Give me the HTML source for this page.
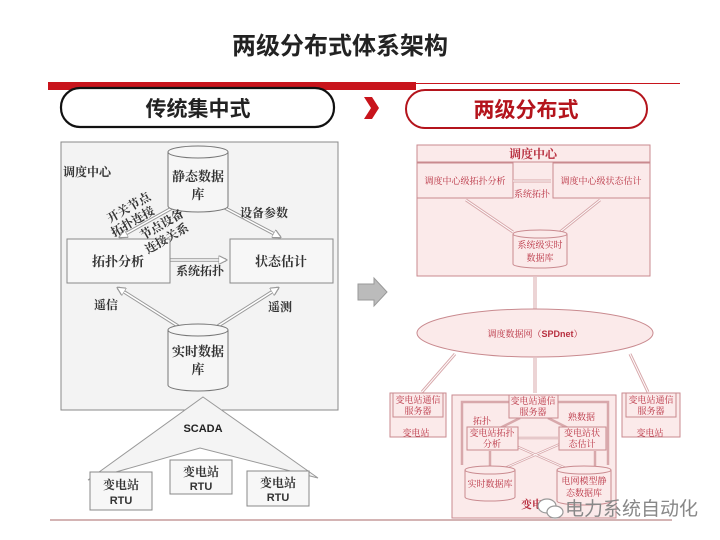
<!DOCTYPE html>
<html><head><meta charset="utf-8"><style>
html,body{margin:0;padding:0;background:#fff;}
svg{display:block;}
text{font-family:"Liberation Serif","Noto Serif CJK SC","Noto Sans CJK SC",serif;}
.s{font-family:"Liberation Sans","Noto Sans CJK SC",sans-serif;}
</style></head><body>
<svg width="720" height="540" viewBox="0 0 720 540" xmlns="http://www.w3.org/2000/svg">
<defs>
<marker id="ag" markerWidth="6" markerHeight="6" refX="5" refY="3" orient="auto"><path d="M0,0 L6,3 L0,6 Z" fill="#fff" stroke="#999" stroke-width="0.8"/></marker>
<marker id="ar" markerWidth="6" markerHeight="6" refX="5" refY="3" orient="auto"><path d="M0,0 L6,3 L0,6 Z" fill="#fff" stroke="#c98a8f" stroke-width="0.8"/></marker>
</defs>
<!-- title -->
<text x="340" y="54" text-anchor="middle" class="s" font-size="24" font-weight="bold" fill="#222">两级分布式体系架构</text>
<rect x="48" y="82" width="368" height="8" fill="#c8141c"/>
<line x1="416" y1="83.5" x2="680" y2="83.5" stroke="#c8141c" stroke-width="1"/>
<rect x="61" y="88" width="273" height="39" rx="19" fill="#fff" stroke="#111" stroke-width="2.2"/>
<text x="198" y="116" text-anchor="middle" class="s" font-size="21" font-weight="bold" fill="#222">传统集中式</text>
<path d="M364,97 L372,97 L379,108 L372,119 L364,119 L371,108 Z" fill="#c8141c"/>
<rect x="406" y="90" width="241" height="38" rx="19" fill="#fff" stroke="#b4141c" stroke-width="2"/>
<text x="526" y="117" text-anchor="middle" class="s" font-size="21" font-weight="bold" fill="#b4141c">两级分布式</text>

<!-- LEFT -->
<rect x="61" y="142" width="277" height="268" fill="#f3f3f3" stroke="#888" stroke-width="1"/>
<text x="63" y="176" font-size="12" font-weight="bold" fill="#333">调度中心</text>
<!-- arrows -->
<g stroke="#999" stroke-width="3.5" fill="none">
<line x1="172" y1="208" x2="120" y2="237"/><line x1="225" y1="208" x2="280" y2="237"/>
<line x1="170" y1="260" x2="226" y2="260"/>
<line x1="178" y1="326" x2="118" y2="288"/><line x1="218" y1="326" x2="278" y2="288"/>
</g>
<g stroke="#fff" stroke-width="1.5" fill="none">
<line x1="172" y1="208" x2="120" y2="237" marker-end="url(#ag)"/><line x1="225" y1="208" x2="280" y2="237" marker-end="url(#ag)"/>
<line x1="170" y1="260" x2="226" y2="260" marker-end="url(#ag)"/>
<line x1="178" y1="326" x2="118" y2="288" marker-end="url(#ag)"/><line x1="218" y1="326" x2="278" y2="288" marker-end="url(#ag)"/>
</g>
<!-- static db -->
<path d="M168,152 L168,206 A30,6 0 0 0 228,206 L228,152" fill="#f6f6f6" stroke="#777"/>
<ellipse cx="198" cy="152" rx="30" ry="6" fill="#f6f6f6" stroke="#777"/>
<text x="198" y="181" text-anchor="middle" font-size="13" font-weight="bold" fill="#333">静态数据</text>
<text x="198" y="199" text-anchor="middle" font-size="13" font-weight="bold" fill="#333">库</text>
<rect x="67" y="239" width="103" height="44" fill="#f7f7f7" stroke="#888"/>
<text x="118" y="266" text-anchor="middle" font-size="13" font-weight="bold" fill="#333">拓扑分析</text>
<rect x="230" y="239" width="103" height="44" fill="#f7f7f7" stroke="#888"/>
<text x="281" y="266" text-anchor="middle" font-size="13" font-weight="bold" fill="#333">状态估计</text>
<text x="110" y="223" font-size="12" font-weight="bold" fill="#333" transform="rotate(-30 110 223)">开关节点</text>
<text x="114" y="237" font-size="12" font-weight="bold" fill="#333" transform="rotate(-30 114 237)">拓扑连接</text>
<text x="143" y="240" font-size="12" font-weight="bold" fill="#333" transform="rotate(-30 143 240)">节点设备</text>
<text x="148" y="254" font-size="12" font-weight="bold" fill="#333" transform="rotate(-30 148 254)">连接关系</text>
<text x="240" y="217" font-size="12" font-weight="bold" fill="#333">设备参数</text>
<text x="176" y="275" font-size="12" font-weight="bold" fill="#333">系统拓扑</text>
<text x="94" y="309" font-size="12" font-weight="bold" fill="#333">遥信</text>
<text x="268" y="311" font-size="12" font-weight="bold" fill="#333">遥测</text>
<!-- realtime db -->
<path d="M168,330 L168,385 A30,6 0 0 0 228,385 L228,330" fill="#f6f6f6" stroke="#777"/>
<ellipse cx="198" cy="330" rx="30" ry="6" fill="#f6f6f6" stroke="#777"/>
<text x="198" y="356" text-anchor="middle" font-size="13" font-weight="bold" fill="#333">实时数据</text>
<text x="198" y="374" text-anchor="middle" font-size="13" font-weight="bold" fill="#333">库</text>
<!-- SCADA -->
<path d="M203,397 L318,478 L200,448 L88,480 Z" fill="#f4f4f4" stroke="#999"/>
<text x="203" y="432" text-anchor="middle" class="s" font-size="11" font-weight="bold" fill="#222">SCADA</text>
<rect x="90" y="472" width="62" height="38" fill="#f7f7f7" stroke="#888"/>
<text x="121" y="489" text-anchor="middle" font-size="12" font-weight="bold" fill="#333">变电站</text>
<text x="121" y="504" text-anchor="middle" class="s" font-size="11" font-weight="bold" fill="#333">RTU</text>
<rect x="170" y="460" width="62" height="34" fill="#f7f7f7" stroke="#888"/>
<text x="201" y="476" text-anchor="middle" font-size="12" font-weight="bold" fill="#333">变电站</text>
<text x="201" y="490" text-anchor="middle" class="s" font-size="11" font-weight="bold" fill="#333">RTU</text>
<rect x="247" y="471" width="62" height="35" fill="#f7f7f7" stroke="#888"/>
<text x="278" y="487" text-anchor="middle" font-size="12" font-weight="bold" fill="#333">变电站</text>
<text x="278" y="501" text-anchor="middle" class="s" font-size="11" font-weight="bold" fill="#333">RTU</text>
<line x1="50" y1="520" x2="672" y2="520" stroke="#b88" stroke-width="1.2"/>

<!-- gray arrow -->
<path d="M358,284 L374,284 L374,278 L387,292 L374,306 L374,300 L358,300 Z" fill="#bbb" stroke="#999"/>

<!-- RIGHT -->
<g font-size="9" fill="#b83040">
<rect x="417" y="145" width="233" height="131" fill="#fbeaea" stroke="#c98a8f"/>
<line x1="417" y1="162" x2="650" y2="162" stroke="#c98a8f"/>
<text x="533" y="158" text-anchor="middle" font-size="12" font-weight="bold">调度中心</text>
<rect x="417" y="163" width="96" height="35" fill="#fbeaea" stroke="#c98a8f"/>
<text x="465" y="184" text-anchor="middle">调度中心级拓扑分析</text>
<rect x="553" y="163" width="97" height="35" fill="#fbeaea" stroke="#c98a8f"/>
<text x="601" y="184" text-anchor="middle">调度中心级状态估计</text>
<text x="514" y="197">系统拓扑</text>
<g stroke="#d8a8ab" stroke-width="3" fill="none">
<line x1="513" y1="181" x2="551" y2="181"/><line x1="466" y1="200" x2="513" y2="232"/><line x1="600" y1="200" x2="560" y2="232"/>
<line x1="535" y1="277" x2="535" y2="309"/>
<line x1="422" y1="392" x2="455" y2="354"/><line x1="535" y1="358" x2="535" y2="393"/><line x1="648" y1="392" x2="630" y2="354"/>
</g>
<g stroke="#fff" stroke-width="1" fill="none">
<line x1="513" y1="181" x2="551" y2="181"/><line x1="466" y1="200" x2="513" y2="232"/><line x1="600" y1="200" x2="560" y2="232"/>
<line x1="535" y1="277" x2="535" y2="309"/>
<line x1="422" y1="392" x2="455" y2="354"/><line x1="535" y1="358" x2="535" y2="393"/><line x1="648" y1="392" x2="630" y2="354"/>
</g>
<path d="M513,234 L513,264 A27,4 0 0 0 567,264 L567,234" fill="#fbeaea" stroke="#c98a8f"/>
<ellipse cx="540" cy="234" rx="27" ry="4" fill="#fbeaea" stroke="#c98a8f"/>
<text x="540" y="248" text-anchor="middle">系统级实时</text>
<text x="540" y="261" text-anchor="middle">数据库</text>
<ellipse cx="535" cy="333" rx="118" ry="24" fill="#fbeaea" stroke="#c98a8f"/>
<text x="535" y="337" text-anchor="middle">调度数据网（<tspan class="s" font-weight="bold">SPDnet</tspan>）</text>
<!-- left station -->
<rect x="390" y="393" width="56" height="44" fill="#fbeaea" stroke="#c98a8f"/>
<rect x="393" y="393" width="50" height="24" fill="#fbeaea" stroke="#c98a8f"/>
<text x="418" y="403" text-anchor="middle">变电站通信</text>
<text x="418" y="414" text-anchor="middle">服务器</text>
<text x="416" y="436" text-anchor="middle">变电站</text>
<!-- right station -->
<rect x="622" y="393" width="58" height="44" fill="#fbeaea" stroke="#c98a8f"/>
<rect x="626" y="393" width="50" height="24" fill="#fbeaea" stroke="#c98a8f"/>
<text x="651" y="403" text-anchor="middle">变电站通信</text>
<text x="651" y="414" text-anchor="middle">服务器</text>
<text x="650" y="436" text-anchor="middle">变电站</text>
<!-- middle station -->
<rect x="452" y="395" width="164" height="123" fill="#fbeaea" stroke="#c98a8f"/>
<g stroke="#d8a8ab" stroke-width="2.5" fill="none">
<path d="M509,402 L462,402 L462,465"/><path d="M558,402 L608,402 L608,465"/>
<line x1="520" y1="418" x2="500" y2="428"/><line x1="548" y1="418" x2="568" y2="428"/>
<line x1="518" y1="438" x2="558" y2="438"/><line x1="490" y1="466" x2="490" y2="451"/>
<line x1="505" y1="468" x2="560" y2="444"/><line x1="570" y1="470" x2="518" y2="447"/><line x1="595" y1="466" x2="595" y2="451"/>
</g>
<g stroke="#fff" stroke-width="0.8" fill="none">
<line x1="518" y1="438" x2="558" y2="438"/><line x1="505" y1="468" x2="560" y2="444"/><line x1="570" y1="470" x2="518" y2="447"/>
</g>
<rect x="509" y="395" width="49" height="23" fill="#fbeaea" stroke="#c98a8f"/>
<text x="533" y="404" text-anchor="middle">变电站通信</text>
<text x="533" y="415" text-anchor="middle">服务器</text>
<text x="473" y="424">拓扑</text>
<text x="568" y="420">熟数据</text>
<rect x="467" y="427" width="51" height="23" fill="#fbeaea" stroke="#c98a8f"/>
<text x="492" y="436" text-anchor="middle">变电站拓扑</text>
<text x="492" y="447" text-anchor="middle">分析</text>
<rect x="559" y="427" width="47" height="23" fill="#fbeaea" stroke="#c98a8f"/>
<text x="582" y="436" text-anchor="middle">变电站状</text>
<text x="582" y="447" text-anchor="middle">态估计</text>
<path d="M465,470 L465,497 A25,4 0 0 0 515,497 L515,470" fill="#fbeaea" stroke="#c98a8f"/>
<ellipse cx="490" cy="470" rx="25" ry="4" fill="#fbeaea" stroke="#c98a8f"/>
<text x="490" y="487" text-anchor="middle">实时数据库</text>
<path d="M557,470 L557,501 A27,4 0 0 0 611,501 L611,470" fill="#fbeaea" stroke="#c98a8f"/>
<ellipse cx="584" cy="470" rx="27" ry="4" fill="#fbeaea" stroke="#c98a8f"/>
<text x="584" y="484" text-anchor="middle">电网模型静</text>
<text x="584" y="496" text-anchor="middle">态数据库</text>
<text x="521" y="508" font-size="11" font-weight="bold">变电</text>
</g>
<!-- watermark -->
<g fill="#fff" stroke="#999" stroke-width="1.2">
<ellipse cx="547" cy="506" rx="9" ry="7"/><ellipse cx="555" cy="512" rx="8" ry="6"/>
</g>
<text x="565" y="515" class="s" font-size="19" fill="#888">电力系统自动化</text>
</svg>
</body></html>
